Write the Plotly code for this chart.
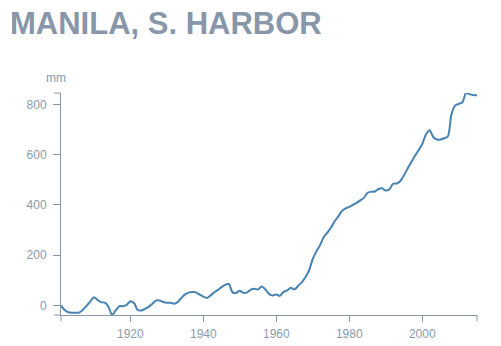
import plotly.graph_objects as go

# Annual mean sea level at Manila, South Harbor (mm, relative to 1901)
years = list(range(1901, 2016))
sea_level = [
    0, -18, -27, -29, -29, -28, -17, -2, 15, 33,          # 1901-1910
    22, 13, 11, -5, -38, -20, -3, -3, 2, 17,              # 1911-1920
    10, -18, -20, -14, -6, 6, 19, 20, 14, 11,             # 1921-1930
    11, 7, 14, 30, 44, 51, 53, 52, 43, 35,                # 1931-1940
    30, 40, 52, 62, 73, 82, 86, 52, 50, 58,               # 1941-1950
    50, 52, 63, 66, 64, 75, 64, 46, 40, 44,               # 1951-1960
    38, 54, 60, 70, 64, 78, 92, 113, 140, 185,            # 1961-1970
    215, 240, 272, 290, 310, 335, 354, 376, 386, 392,     # 1971-1980
    400, 408, 418, 428, 448, 452, 453, 463, 466, 457,     # 1981-1990
    462, 484, 485, 495, 518, 545, 570, 595, 618, 642,     # 1991-2000
    680, 697, 670, 660, 660, 665, 672, 760, 795, 802,     # 2001-2010
    808, 845, 840, 836, 836,                              # 2011-2015
]

y_ticks = [0, 200, 400, 600, 800]
x_ticks = [1920, 1940, 1960, 1980, 2000]

title_text = "MANILA, S. HARBOR"
unit_text = "mm"

axis_color = "#8797a9"
label_color = "#8a9aae"
line_color = "steelblue"
font_family = "Liberation Sans, Arial, sans-serif"

fig = go.Figure()
fig.add_trace(go.Scatter(
    x=years,
    y=sea_level,
    mode="lines",
    line=dict(color=line_color, width=2, shape="spline", smoothing=0.8),
    hoverinfo="skip",
    showlegend=False,
))

axis_common = dict(
    showgrid=False,
    zeroline=False,
    showline=True,
    linecolor=axis_color,
    linewidth=1,
    ticks="outside",
    tickcolor=axis_color,
    tickwidth=1,
    automargin=False,
    tickfont=dict(family=font_family, size=12, color=label_color),
)

fig.update_layout(
    width=501,
    height=346,
    margin=dict(l=61, r=24, t=93, b=31, autoexpand=False),
    paper_bgcolor="white",
    plot_bgcolor="white",
    title=dict(
        text=title_text,
        x=10 / 501,
        xanchor="left",
        xref="container",
        y=1 - 23 / 346,
        yanchor="middle",
        yref="container",
        font=dict(family=font_family, size=31, color=axis_color, weight="bold"),
    ),
    xaxis=dict(
        range=[min(years), max(years)],
        tickvals=x_ticks,
        ticklen=6,
        ticklabelstandoff=2,
        **axis_common,
    ),
    yaxis=dict(
        range=[min(sea_level), max(sea_level)],
        tickvals=y_ticks,
        ticklen=7,
        ticklabelstandoff=4,
        **axis_common,
    ),
)

# Outer end ticks on both axis domains
stub = dict(type="line", line=dict(color=axis_color, width=1), layer="above")
fig.add_shape(xref="paper", yref="paper", xsizemode="pixel", xanchor=0,
              x0=-7, x1=0, y0=1, y1=1, **stub)
fig.add_shape(xref="paper", yref="paper", xsizemode="pixel", xanchor=0,
              x0=-7, x1=0, y0=0, y1=0, **stub)
fig.add_shape(xref="paper", yref="paper", ysizemode="pixel", yanchor=0,
              x0=0, x1=0, y0=-6, y1=0, **stub)
fig.add_shape(xref="paper", yref="paper", ysizemode="pixel", yanchor=0,
              x0=1, x1=1, y0=-6, y1=0, **stub)

fig.add_annotation(
    text=unit_text,
    xref="paper", yref="paper",
    x=0, y=1,
    xshift=-5, yshift=15,
    xanchor="center", yanchor="middle",
    showarrow=False,
    font=dict(family=font_family, size=12, color=label_color),
)

fig.write_html("out.html", config=dict(displayModeBar=False))
